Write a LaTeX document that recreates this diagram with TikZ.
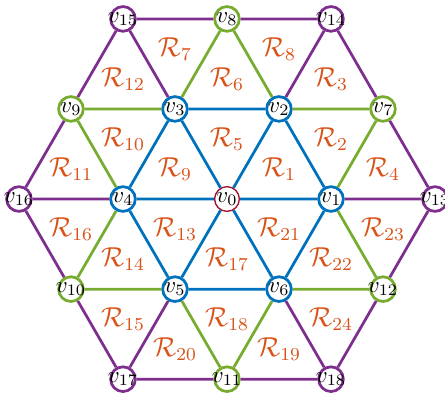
\documentclass[tikz,border=0pt]{standalone}
\usepackage{amsmath}
\usepackage{amssymb}
\usepackage{xcolor}
\usepackage{tikz}
\usetikzlibrary{positioning}
\definecolor{lblue}{RGB}{0,114,189}
\definecolor{lgreen}{RGB}{119,172,48}
\definecolor{lpurple}{RGB}{126,47,142}
\definecolor{lorange}{RGB}{217,83,25}
\definecolor{lred}{RGB}{162,20,47}
\newcommand{\vlab}[1]{\makebox[0pt]{$v_{#1}$}}

\begin{document}
\begin{tikzpicture}[
  vx/.style={circle, draw, fill=white, line width=1.2pt, inner sep=0pt, minimum size=3.8mm},
  reg/.style={text=lorange, font=\large},
  inner/.style={draw=lblue, line width=1.2pt},
  mid/.style={draw=lgreen, line width=1.2pt},
  outer/.style={draw=lpurple, line width=1.2pt}
]
\useasboundingbox (-3.492,-2.969) rectangle (3.354,3.062);
% vertices
\node[vx, draw=lred, line width=0.6pt] (v0) at (0,0) {\vlab{0}};
\node[vx, draw=lblue] (v1) at (1.6,0) {\vlab{1}};
\node[vx, draw=lblue] (v2) at (0.8,1.386) {\vlab{2}};
\node[vx, draw=lblue] (v3) at (-0.8,1.386) {\vlab{3}};
\node[vx, draw=lblue] (v4) at (-1.6,0) {\vlab{4}};
\node[vx, draw=lblue] (v5) at (-0.8,-1.386) {\vlab{5}};
\node[vx, draw=lblue] (v6) at (0.8,-1.386) {\vlab{6}};
\node[vx, draw=lgreen] (v7) at (2.4,1.386) {\vlab{7}};
\node[vx, draw=lgreen] (v8) at (0,2.771) {\vlab{8}};
\node[vx, draw=lgreen] (v9) at (-2.4,1.386) {\vlab{9}};
\node[vx, draw=lgreen] (v10) at (-2.4,-1.386) {\vlab{10}};
\node[vx, draw=lgreen] (v11) at (0,-2.771) {\vlab{11}};
\node[vx, draw=lgreen] (v12) at (2.4,-1.386) {\vlab{12}};
\node[vx, draw=lpurple] (v13) at (3.2,0) {\vlab{13}};
\node[vx, draw=lpurple] (v14) at (1.6,2.771) {\vlab{14}};
\node[vx, draw=lpurple] (v15) at (-1.6,2.771) {\vlab{15}};
\node[vx, draw=lpurple] (v16) at (-3.2,0) {\vlab{16}};
\node[vx, draw=lpurple] (v17) at (-1.6,-2.771) {\vlab{17}};
\node[vx, draw=lpurple] (v18) at (1.6,-2.771) {\vlab{18}};
% edges
\draw[inner] (v1) -- (v2) -- (v3) -- (v4) -- (v5) -- (v6) -- (v1);
\draw[inner] (v0) -- (v1) (v0) -- (v2) (v0) -- (v3) (v0) -- (v4) (v0) -- (v5) (v0) -- (v6);
\draw[mid] (v1) -- (v7) -- (v2) -- (v8) -- (v3) -- (v9) -- (v4) -- (v10) -- (v5) -- (v11) -- (v6) -- (v12) -- (v1);
\draw[outer] (v13) -- (v7) -- (v14) -- (v8) -- (v15) -- (v9) -- (v16) -- (v10) -- (v17) -- (v11) -- (v18) -- (v12) -- (v13);
\draw[outer] (v13) -- (v1) (v14) -- (v2) (v15) -- (v3) (v16) -- (v4) (v17) -- (v5) (v18) -- (v6);
% regions
\node[reg] (r1) at (barycentric cs:v0=1,v1=1,v2=1) {$\mathcal{R}_{1}$};
\node[reg] (r2) at (barycentric cs:v1=1,v2=1,v7=1) {$\mathcal{R}_{2}$};
\node[reg] (r3) at (barycentric cs:v2=1,v7=1,v14=1) {$\mathcal{R}_{3}$};
\node[reg] (r4) at (barycentric cs:v1=1,v7=1,v13=1) {$\mathcal{R}_{4}$};
\node[reg] (r5) at (barycentric cs:v0=1,v2=1,v3=1) {$\mathcal{R}_{5}$};
\node[reg] (r6) at (barycentric cs:v2=1,v3=1,v8=1) {$\mathcal{R}_{6}$};
\node[reg] (r7) at (barycentric cs:v3=1,v8=1,v15=1) {$\mathcal{R}_{7}$};
\node[reg] (r8) at (barycentric cs:v2=1,v8=1,v14=1) {$\mathcal{R}_{8}$};
\node[reg] (r9) at (barycentric cs:v0=1,v3=1,v4=1) {$\mathcal{R}_{9}$};
\node[reg] (r10) at (barycentric cs:v3=1,v4=1,v9=1) {$\mathcal{R}_{10}$};
\node[reg] (r11) at (barycentric cs:v4=1,v9=1,v16=1) {$\mathcal{R}_{11}$};
\node[reg] (r12) at (barycentric cs:v3=1,v9=1,v15=1) {$\mathcal{R}_{12}$};
\node[reg] (r13) at (barycentric cs:v0=1,v4=1,v5=1) {$\mathcal{R}_{13}$};
\node[reg] (r14) at (barycentric cs:v4=1,v5=1,v10=1) {$\mathcal{R}_{14}$};
\node[reg] (r15) at (barycentric cs:v5=1,v10=1,v17=1) {$\mathcal{R}_{15}$};
\node[reg] (r16) at (barycentric cs:v4=1,v10=1,v16=1) {$\mathcal{R}_{16}$};
\node[reg] (r17) at (barycentric cs:v0=1,v5=1,v6=1) {$\mathcal{R}_{17}$};
\node[reg] (r18) at (barycentric cs:v5=1,v6=1,v11=1) {$\mathcal{R}_{18}$};
\node[reg] (r19) at (barycentric cs:v6=1,v11=1,v18=1) {$\mathcal{R}_{19}$};
\node[reg] (r20) at (barycentric cs:v5=1,v11=1,v17=1) {$\mathcal{R}_{20}$};
\node[reg] (r21) at (barycentric cs:v0=1,v6=1,v1=1) {$\mathcal{R}_{21}$};
\node[reg] (r22) at (barycentric cs:v1=1,v6=1,v12=1) {$\mathcal{R}_{22}$};
\node[reg] (r23) at (barycentric cs:v1=1,v12=1,v13=1) {$\mathcal{R}_{23}$};
\node[reg] (r24) at (barycentric cs:v6=1,v12=1,v18=1) {$\mathcal{R}_{24}$};
\end{tikzpicture}
\end{document}
